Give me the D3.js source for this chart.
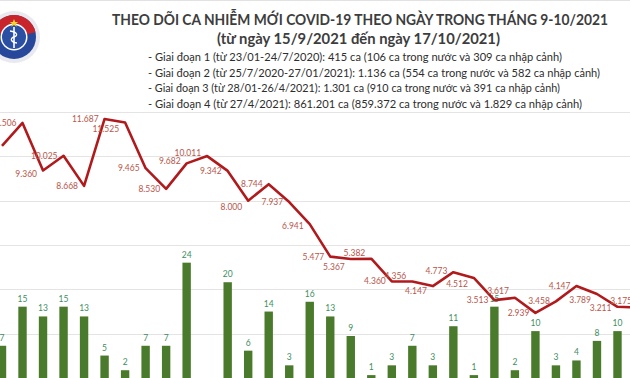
<!DOCTYPE html>
<html><head><meta charset="utf-8">
<script src="https://cdn.jsdelivr.net/npm/d3@7"></script>
<style>html,body{margin:0;padding:0;background:#fff;overflow:hidden}svg{display:block}</style>
</head><body>
<svg id="chart" width="630" height="378"></svg>
<script>
const title = "THEO DÕI CA NHIỄM MỚI COVID-19 THEO NGÀY TRONG THÁNG 9-10/2021";
const subtitle = "(từ ngày 15/9/2021 đến ngày 17/10/2021)";
const notes = [
  "- Giai đoạn 1 (từ 23/01-24/7/2020): 415 ca (106 ca trong nước và 309 ca nhập cảnh)",
  "- Giai đoạn 2 (từ 25/7/2020-27/01/2021): 1.136 ca (554 ca trong nước và 582 ca nhập cảnh)",
  "- Giai đoạn 3 (từ 28/01-26/4/2021): 1.301 ca (910 ca trong nước và 391 ca nhập cảnh)",
  "- Giai đoạn 4 (từ 27/4/2021): 861.201 ca (859.372 ca trong nước và 1.829 ca nhập cảnh)"
];
// visible days (16/9 .. 17/10)
const days = ["16/9","17/9","18/9","19/9","20/9","21/9","22/9","23/9","24/9","25/9","26/9","27/9","28/9","29/9","30/9","1/10","2/10","3/10","4/10","5/10","6/10","7/10","8/10","9/10","10/10","11/10","12/10","13/10","14/10","15/10","16/10","17/10"];
const domestic = [10472,11506,9360,10025,8668,11687,11525,9465,8530,9682,10011,9342,8000,8744,7937,6941,5477,5367,5382,4360,4356,4147,4773,4512,3513,3617,2939,3458,4147,3789,3211,3175];
const imported = [7,15,13,15,13,5,2,7,7,24,0,20,6,14,3,16,13,9,1,3,7,3,11,1,15,2,10,3,4,8,10,null];
// label vertical offsets (layout only)
const labelDy = [0,0,3,0,0,0,6,0,0,-2,-3,0,6,0,0,2,0,8,-6,0,-5,5,-1,6,0,-7,0,0,0,6,1,-7];

const svg = d3.select("#chart");
const fmt = v => d3.format(",")(v).replace(/,/g, ".");

const x = d3.scalePoint().domain(d3.range(days.length)).range([2, 638]);
const yLine = d3.scaleLinear().domain([0, 12000]).range([378, 112]);
const yBar = d3.scaleLinear().domain([0, 54]).range([380, 116]);

// top border
svg.append("line").attr("x1",0).attr("x2",630).attr("y1",0.5).attr("y2",0.5).attr("stroke","#e2e2e2");

// gridlines
svg.append("g").selectAll("line").data(yLine.ticks(6).filter(t => t > 0)).join("line")
  .attr("x1", 0).attr("x2", 630)
  .attr("y1", d => Math.round(yLine(d)) + 0.5).attr("y2", d => Math.round(yLine(d)) + 0.5)
  .attr("stroke", "#e4e4e4").attr("stroke-width", 1.2);

// logo
const logo = svg.append("g").attr("transform", "translate(14,37)");
logo.append("circle").attr("r", 26).attr("fill", "#e9e9ef");
logo.append("circle").attr("r", 22).attr("fill", "#27479a");
logo.append("path").attr("d", d3.arc()({innerRadius: 13, outerRadius: 22, startAngle: -1.35, endAngle: 1.35})).attr("fill", "#c8242b");
logo.append("circle").attr("r", 13.5).attr("fill", "#ffffff");
logo.append("circle").attr("r", 12).attr("fill", "#2b4fa3");
logo.append("path").attr("d", "M0,-10 L0,11").attr("stroke", "#fff").attr("stroke-width", 1.6);
logo.append("path").attr("d", "M-4,-6 C4,-5 4,-1 0,0 C-4,1 -4,5 3,6").attr("fill", "none").attr("stroke", "#fff").attr("stroke-width", 1.3);
logo.append("path").attr("d", "M0,-18 l1.2,3 h3 l-2.4,1.8 l1,3 l-2.8,-1.8 l-2.8,1.8 l1,-3 l-2.4,-1.8 h3z").attr("fill", "#f2d231");

// titles
svg.append("text").attr("x", 112).attr("y", 25).text(title)
  .attr("font-family", "Lato, 'Open Sans', sans-serif").attr("font-weight", 700).attr("font-size", 14.5)
  .attr("fill", "#3d3d3d").attr("textLength", 496).attr("lengthAdjust", "spacingAndGlyphs");
svg.append("text").attr("x", 217).attr("y", 44).text(subtitle)
  .attr("font-family", "Lato, 'Open Sans', sans-serif").attr("font-weight", 700).attr("font-size", 14.5)
  .attr("fill", "#3d3d3d").attr("textLength", 283).attr("lengthAdjust", "spacingAndGlyphs");
const noteW = [414, 452, 412, 434];
svg.append("g").selectAll("text").data(notes).join("text")
  .attr("x", 148).attr("y", (d, i) => 61 + i * 15.6).text(d => d)
  .attr("font-family", "Lato, 'Open Sans', sans-serif").attr("font-size", 11)
  .attr("fill", "#2e2e2e").attr("textLength", (d, i) => noteW[i]).attr("lengthAdjust", "spacingAndGlyphs");

// bars
const barData = imported.map((v, i) => ({i, v})).filter(d => d.v !== null);
svg.append("g").selectAll("rect").data(barData).join("rect")
  .attr("x", d => x(d.i) - 4.2).attr("width", 8.4)
  .attr("y", d => yBar(d.v)).attr("height", d => yBar(0) - yBar(d.v))
  .attr("fill", "#4a7b2c");
svg.append("g").selectAll("text").data(barData.filter(d => d.v > 0)).join("text")
  .attr("x", d => x(d.i)).attr("y", d => yBar(d.v) - 5)
  .attr("text-anchor", "middle").text(d => d.v)
  .attr("font-family", "Lato, 'Open Sans', sans-serif").attr("font-size", 8.5)
  .attr("fill", "#3e8e63");

// line
svg.append("path").datum(domestic)
  .attr("d", d3.line().x((d, i) => x(i)).y(d => yLine(d)))
  .attr("fill", "none").attr("stroke", "#b11a1c").attr("stroke-width", 2.6).attr("stroke-linejoin", "round");
svg.append("g").selectAll("text").data(domestic.map((v, i) => ({v, i})).filter(d => d.i > 0)).join("text")
  .attr("x", d => x(d.i) - 6).attr("y", d => yLine(d.v) + 3 + labelDy[d.i])
  .attr("text-anchor", "end").text(d => fmt(d.v))
  .attr("font-family", "Lato, 'Open Sans', sans-serif").attr("font-size", 8.5)
  .attr("fill", "#b8564c");
</script>
</body></html>
